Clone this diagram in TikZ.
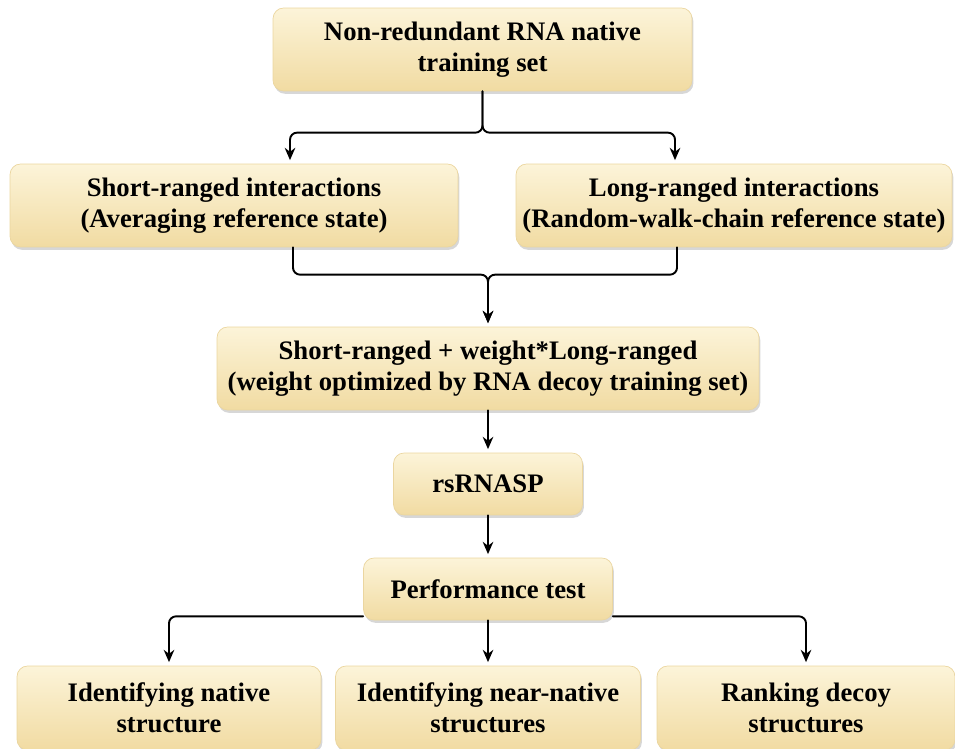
\documentclass[tikz,border=0pt]{standalone}
\usepackage{fontspec}
\setmainfont{Liberation Serif}
\usetikzlibrary{calc,shadows,arrows.meta}

\definecolor{boxtop}{HTML}{FCF4D9}
\definecolor{boxbot}{HTML}{F1DBA2}
\definecolor{boxedge}{HTML}{EBD6A0}

\begin{document}
\begin{tikzpicture}[x=0.02cm, y=-0.02cm, line cap=round, line join=round,
		box/.style={rounded corners=6pt, top color=boxtop, bottom color=boxbot, draw=boxedge, line width=0.4pt,
			drop shadow={shadow xshift=0.8pt, shadow yshift=-1.6pt, opacity=0.35, fill=black!45},
			align=center, inner sep=0pt, minimum height=1.66cm, font=\fontsize{15.2}{17.8}\selectfont\bfseries},
		conn/.style={-{Stealth[length=7pt,width=6pt]}, line width=1.1pt, rounded corners=4pt, shorten >=2pt}]
		% Fix the page to the reference size
		\useasboundingbox (0,0) rectangle (955,749);
		
		% Boxes
		\node[box, minimum width=8.38cm] (train) at (482.5,49.5) {Non-redundant RNA native\\training set};
		\node[box, minimum width=8.96cm] (short) at (234,205.5) {Short-ranged interactions\\(Averaging reference state)};
		\node[box, minimum width=8.72cm] (long) at (734,205.5) {Long-ranged interactions\\(Random-walk-chain reference state)};
		\node[box, minimum width=10.84cm] (comb) at (488,368.5) {Short-ranged + weight*Long-ranged\\(weight optimized by RNA decoy training set)};
		\node[box, minimum width=3.78cm, minimum height=1.24cm] (rsrnasp) at (488,484) {rsRNASP};
		\node[box, minimum width=4.98cm, minimum height=1.24cm] (perf) at (488,589) {Performance test};
		\node[box, minimum width=6.08cm, minimum height=1.68cm] (nat) at (169,708) {Identifying native\\structure};
		\node[box, minimum width=6.1cm, minimum height=1.68cm] (near) at (488,708) {Identifying near-native\\structures};
		\node[box, minimum width=5.96cm, minimum height=1.68cm] (rank) at (806,708) {Ranking decoy\\structures};
		
		% Split from the training set
		\draw[conn] (train.south) |- ($(short.north)+(56,-31)$) -- ($(short.north)+(56,0)$);
		\draw[conn] (train.south) |- ($(long.north)+(-59,-31)$) -- ($(long.north)+(-59,0)$);
		
		% Merge into the combined potential
		\draw[conn] ($(short.south)+(59,0)$) |- ($(comb.north)+(0,-52)$) -- (comb.north);
		\draw[conn] ($(long.south)+(-57,0)$) |- ($(comb.north)+(0,-52)$) -- (comb.north);
		
		\draw[conn] (comb.south) -- (rsrnasp.north);
		\draw[conn] (rsrnasp.south) -- (perf.north);
		
		% Three tests
		\draw[conn] ($(perf.south west)+(0,-4)$) -| (nat.north);
		\draw[conn] (perf.south) -- (near.north);
		\draw[conn] ($(perf.south east)+(0,-4)$) -| (rank.north);
	\end{tikzpicture}
\end{document}
